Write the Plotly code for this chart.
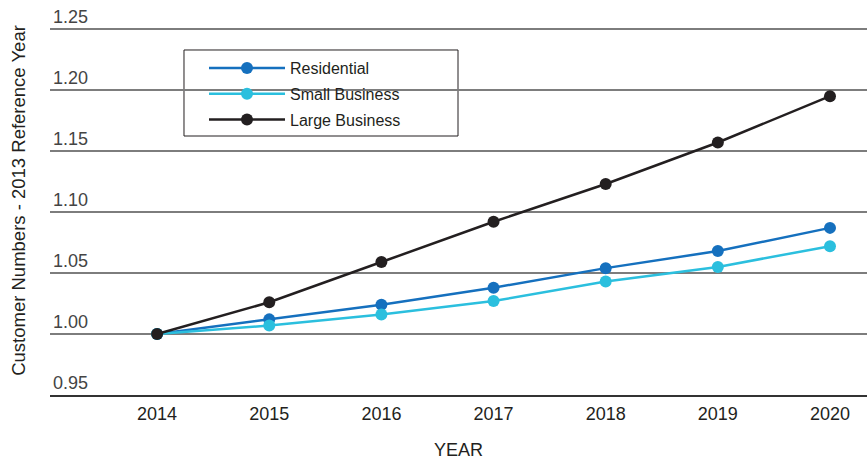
import plotly.graph_objects as go

# Customer numbers indexed to the 2013 reference year
years = [2014, 2015, 2016, 2017, 2018, 2019, 2020]
residential = [1.000, 1.012, 1.024, 1.038, 1.054, 1.068, 1.087]
small_business = [1.000, 1.007, 1.016, 1.027, 1.043, 1.055, 1.072]
large_business = [1.000, 1.026, 1.059, 1.092, 1.123, 1.157, 1.195]

y_ticks = [0.95, 1.00, 1.05, 1.10, 1.15, 1.20, 1.25]
y_tick_labels = ["0.95", "1.00", "1.05", "1.10", "1.15", "1.20", "1.25"]

series = [
    ("Residential", residential, "#1570be"),
    ("Small Business", small_business, "#2bbfde"),
    ("Large Business", large_business, "#231f20"),
]

FONT = "Liberation Sans, Arial, Helvetica, sans-serif"
INK = "#231f20"

fig = go.Figure()
for name, values, color in series:
    fig.add_trace(go.Scatter(
        x=years, y=values, name=name, mode="lines+markers",
        legendgroup=name,
        line=dict(color=color, width=2.5),
        marker=dict(color=color, size=12),
    ))

# White framed box behind the legend entries (paper coords = plot area)
fig.add_shape(
    type="rect", xref="paper", yref="paper",
    x0=0.164, x1=0.4994, y0=0.6658, y1=0.8869,
    line=dict(color=INK, width=1), fillcolor="white", layer="between",
)

fig.update_layout(
    width=867, height=461,
    margin=dict(l=50, r=0, t=6, b=66),
    paper_bgcolor="white", plot_bgcolor="white",
    font=dict(family=FONT, size=18, color=INK),
    showlegend=True,
    legend=dict(
        x=0.1885, y=0.8843, xanchor="left", yanchor="top",
        borderwidth=0, bgcolor="rgba(0,0,0,0)",
        font=dict(size=16),
        itemwidth=76, tracegroupgap=2,
    ),
    xaxis=dict(
        range=[2013.045, 2020.33],
        tickvals=years, ticktext=[str(y) for y in years],
        showgrid=False, zeroline=False,
        showline=True, linecolor="#333333", linewidth=1.5,
        ticks="", ticklabelstandoff=2,
        title=dict(text="YEAR", font=dict(size=18), standoff=20),
        automargin=False,
    ),
    yaxis=dict(
        range=[0.95, 1.2689],
        tickvals=y_ticks, ticktext=y_tick_labels,
        ticklabelposition="inside top",
        showgrid=True, gridcolor="#7d7d7d", gridwidth=1.5,
        zeroline=False, showline=False, ticks="",
        title=dict(text="Customer Numbers - 2013 Reference Year", font=dict(size=18.5), standoff=22),
        automargin=False,
    ),
)

fig.write_html("out.html")
